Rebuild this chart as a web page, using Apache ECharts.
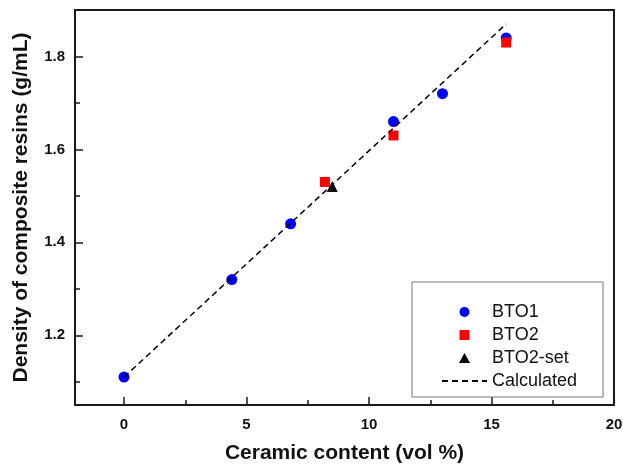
<!DOCTYPE html>
<html>
<head>
<meta charset="utf-8">
<script src="https://cdn.jsdelivr.net/npm/echarts@6/dist/echarts.min.js"></script>
<style>
  html, body { margin: 0; padding: 0; background: #fff; }
  #chart-container { width: 623px; height: 467px; }
</style>
</head>
<body>
<div id="chart-container"></div>
<script>
// measured points
const bto1X = [0, 4.4, 6.8, 11, 13, 15.6];
const bto1Y = [1.11, 1.32, 1.44, 1.66, 1.72, 1.84];
const bto2X = [8.2, 11, 15.6];
const bto2Y = [1.53, 1.63, 1.83];
const bto2SetX = [8.5];
const bto2SetY = [1.52];
// calculated line end points
const calcX = [0, 15.6];
const calcY = [1.11, 1.87];

const xMajor = [0, 5, 10, 15, 20];
const xMinor = [2.5, 7.5, 12.5, 17.5];
const yMajor = [1.2, 1.4, 1.6, 1.8];
const yMinor = [1.1, 1.3, 1.5, 1.7];

const pairs = (xs, ys) => xs.map((x, i) => [x, ys[i]]);

const font = 'Liberation Sans, Arial, sans-serif';
const axisColor = '#1a1a1a';
// legend icons that keep their aspect inside the wide icon slot
const squareIcon = 'path://M0,0L10,0L10,10L0,10Z';
const triangleIcon = 'path://M5,0L10,9L0,9Z';

const dom = document.getElementById('chart-container');
const myChart = echarts.init(dom, null, { renderer: 'canvas' });

const baseX = {
  type: 'value',
  min: -2,
  max: 20,
  position: 'bottom',
  splitLine: { show: false },
};
const baseY = {
  type: 'value',
  min: 1.05,
  max: 1.9,
  position: 'left',
  splitLine: { show: false },
};

const option = {
  animation: false,
  backgroundColor: '#fff',
  grid: {
    left: 75,
    right: 9,
    top: 10,
    bottom: 62,
    outerBoundsMode: 'none',
    show: true,
    borderColor: axisColor,
    borderWidth: 2,
  },
  xAxis: [
    {
      ...baseX,
      name: 'Ceramic content (vol %)',
      nameLocation: 'middle',
      nameGap: 38,
      nameTextStyle: { fontFamily: font, fontWeight: 'bold', fontSize: 21, color: '#111' },
      axisLine: { onZero: false, lineStyle: { color: axisColor, width: 2 } },
      axisTick: { inside: true, length: 8, customValues: xMajor, lineStyle: { color: axisColor, width: 1.5 } },
      axisLabel: { customValues: xMajor, margin: 12, fontFamily: font, fontWeight: 'bold', fontSize: 15, color: '#111' },
    },
    {
      ...baseX,
      axisLine: { show: false, onZero: false },
      axisTick: { inside: true, length: 5, customValues: xMinor, lineStyle: { color: axisColor, width: 1.5 } },
      axisLabel: { show: false },
    },
  ],
  yAxis: [
    {
      ...baseY,
      name: 'Density of composite resins (g/mL)',
      nameLocation: 'middle',
      nameGap: 43,
      nameTextStyle: { fontFamily: font, fontWeight: 'bold', fontSize: 21, color: '#111' },
      axisLine: { onZero: false, lineStyle: { color: axisColor, width: 2 } },
      axisTick: { inside: true, length: 8, customValues: yMajor, lineStyle: { color: axisColor, width: 1.5 } },
      axisLabel: { customValues: yMajor, margin: 10, fontFamily: font, fontWeight: 'bold', fontSize: 15, color: '#111' },
    },
    {
      ...baseY,
      axisLine: { show: false, onZero: false },
      axisTick: { inside: true, length: 5, customValues: yMinor, lineStyle: { color: axisColor, width: 1.5 } },
      axisLabel: { show: false },
    },
  ],
  legend: {
    orient: 'vertical',
    left: 412,
    top: 282,
    padding: [21, 26, 7, 29],
    itemWidth: 45,
    itemHeight: 10,
    itemGap: 5,
    symbolKeepAspect: true,
    borderColor: '#777',
    borderWidth: 1,
    backgroundColor: '#fff',
    textStyle: { fontFamily: font, fontSize: 18, color: '#111' },
    data: [
      { name: 'BTO1', icon: 'circle' },
      { name: 'BTO2', icon: squareIcon },
      { name: 'BTO2-set', icon: triangleIcon },
      { name: 'Calculated' },
    ],
  },
  series: [
    {
      name: 'BTO1',
      type: 'scatter',
      symbol: 'circle',
      symbolSize: 11,
      itemStyle: { color: '#0000ff', opacity: 1 },
      data: pairs(bto1X, bto1Y),
    },
    {
      name: 'BTO2',
      type: 'scatter',
      symbol: 'rect',
      symbolSize: 10,
      itemStyle: { color: '#ff0000', opacity: 1 },
      data: pairs(bto2X, bto2Y),
    },
    {
      name: 'BTO2-set',
      type: 'scatter',
      symbol: 'triangle',
      symbolSize: 11,
      itemStyle: { color: '#000', opacity: 1 },
      data: pairs(bto2SetX, bto2SetY),
    },
    {
      name: 'Calculated',
      type: 'line',
      symbol: 'none',
      lineStyle: { color: '#000', width: 1.5, type: [6, 4] },
      itemStyle: { color: 'rgba(0,0,0,0)' },
      data: pairs(calcX, calcY),
    },
  ],
};

myChart.setOption(option);
window.addEventListener('resize', myChart.resize);
</script>
</body>
</html>
